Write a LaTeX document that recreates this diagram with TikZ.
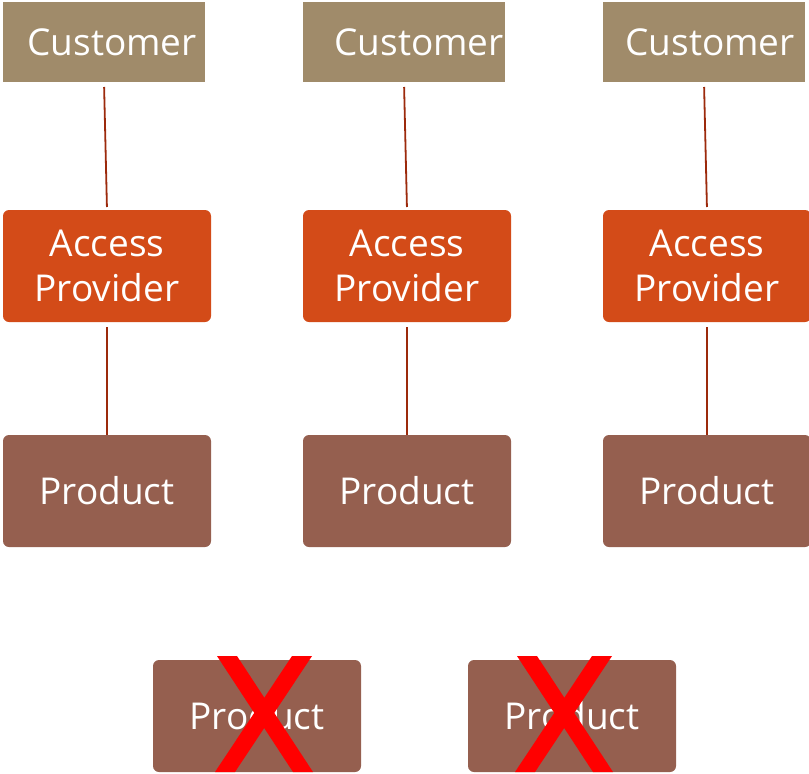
\documentclass[tikz,border=0pt]{standalone}
\usepackage{fontspec}
\setmainfont{Open Sans}
\definecolor{custc}{HTML}{A08B6A}
\definecolor{accc}{HTML}{D34B18}
\definecolor{prodc}{HTML}{955F4F}
\definecolor{connc}{HTML}{9C2A0C}
\definecolor{xred}{HTML}{FF0000}
\tikzset{
  custbox/.style={fill=custc, text=white, minimum width=202pt, minimum height=80pt, inner sep=0pt, outer sep=0pt, font=\fontsize{37}{44}\selectfont},
  accbox/.style={fill=accc, text=white, rounded corners=6pt, minimum width=208pt, minimum height=112pt, inner sep=0pt, outer sep=0pt, align=center, font=\fontsize{37}{45}\selectfont},
  prodbox/.style={fill=prodc, text=white, rounded corners=6pt, minimum width=208pt, minimum height=112pt, inner sep=0pt, outer sep=0pt, font=\fontsize{37}{44}\selectfont},
  conn/.style={draw=connc, line width=1.8pt},
  xmark/.style={fill=xred}
}
\begin{document}
\begin{tikzpicture}[x=1pt,y=-1pt]
\useasboundingbox (0,0) rectangle (809,774);
% customers
\node[custbox] (c1) at (104,42) {\hspace{16pt}Customer};
\node[custbox] (c2) at (404,42) {\hspace{30pt}Customer};
\node[custbox] (c3) at (704,42) {\hspace{12pt}Customer};
% access providers
\node[accbox] (a1) at (107,266) {Access\\Provider};
\node[accbox] (a2) at (407,266) {Access\\Provider};
\node[accbox] (a3) at (707,266) {Access\\Provider};
% products
\node[prodbox] (p1) at (107,491) {Product};
\node[prodbox] (p2) at (407,491) {Product};
\node[prodbox] (p3) at (707,491) {Product};
\node[prodbox] (p4) at (257,716) {Product};
\node[prodbox] (p5) at (572,716) {Product};
% connectors
\foreach \i in {1,2,3}{
  \draw[conn, shorten <=5pt, shorten >=3pt] (c\i.south) -- (a\i.north);
  \draw[conn, shorten <=5pt] (a\i.south) -- (p\i.north);
}
% red crosses
\foreach \dx in {0,300}{
  \begin{scope}[xshift=\dx pt]
  \fill[xmark] (217,656) -- (237,656) -- (313,772) -- (293,772) -- cycle;
  \fill[xmark] (292,656) -- (312,656) -- (235,772) -- (215,772) -- cycle;
  \end{scope}
}
\end{tikzpicture}
\end{document}
